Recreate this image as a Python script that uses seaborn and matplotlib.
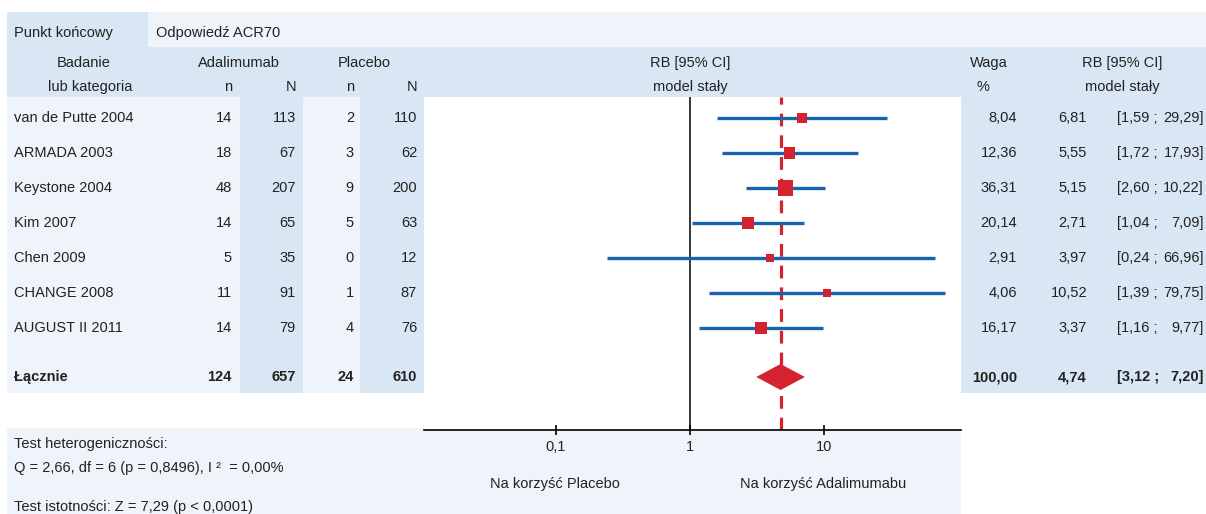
import matplotlib
matplotlib.use("Agg")
import matplotlib.pyplot as plt
import seaborn as sns
import pandas as pd
import numpy as np
from matplotlib.patches import Rectangle, Polygon

# ---------------- data ----------------
endpoint_label = "Punkt końcowy"
endpoint_value = "Odpowiedź ACR70"
studies = ["van de Putte 2004", "ARMADA 2003", "Keystone 2004", "Kim 2007",
           "Chen 2009", "CHANGE 2008", "AUGUST II 2011"]
ada_n = [14, 18, 48, 14, 5, 11, 14]
ada_N = [113, 67, 207, 65, 35, 91, 79]
pla_n = [2, 3, 9, 5, 0, 1, 4]
pla_N = [110, 62, 200, 63, 12, 87, 76]
weights = [8.04, 12.36, 36.31, 20.14, 2.91, 4.06, 16.17]
rb = [6.81, 5.55, 5.15, 2.71, 3.97, 10.52, 3.37]
ci_low = [1.59, 1.72, 2.60, 1.04, 0.24, 1.39, 1.16]
ci_high = [29.29, 17.93, 10.22, 7.09, 66.96, 79.75, 9.77]
total_label = "Łącznie"
total_ada_n, total_ada_N = 124, 657
total_pla_n, total_pla_N = 24, 610
total_weight = 100.00
total_rb, total_low, total_high = 4.74, 3.12, 7.20
tick_values = [0.1, 1, 10]
tick_labels = ["0,1", "1", "10"]
favours = ["Na korzyść Placebo", "Na korzyść Adalimumabu"]
footer_lines = ["Test heterogeniczności:",
                "Q = 2,66, df = 6 (p = 0,8496), I ²  = 0,00%",
                "Test istotności: Z = 7,29 (p < 0,0001)"]

# ---------------- style ----------------
sns.set_theme(style="white")
plt.rcParams['font.family'] = ['Liberation Sans', 'DejaVu Sans']
TXT = "#222222"
MID = "#d9e6f3"
LIGHT = "#eef4fa"
BLUE = "#1664b0"
RED = "#d4232e"
FS = 10.5

def fmt(v):
    return f"{v:.2f}".replace(".", ",")

fig = plt.figure(figsize=(12.06, 5.14), dpi=100)
bg = fig.add_axes([0, 0, 1, 1])
bg.set_xlim(0, 1206)
bg.set_ylim(514, 0)
bg.axis("off")

def rect(x0, y0, x1, y1, c):
    bg.add_patch(Rectangle((x0, y0), x1 - x0, y1 - y0, facecolor=c, lw=0, zorder=0))

def txt(x, y, s, ha="left", bold=False):
    bg.text(x, y, s, ha=ha, va="center", fontsize=FS, color=TXT,
            fontweight="bold" if bold else "normal", zorder=3)

# backgrounds
rect(7, 12, 148, 47, MID)
rect(148, 12, 1206, 47, LIGHT)
rect(7, 47, 1206, 97, MID)
rect(7, 97, 424, 393, LIGHT)
rect(240, 97, 303, 393, MID)
rect(360, 97, 424, 393, MID)
rect(961, 97, 1206, 393, MID)
rect(7, 428, 961, 514, LIGHT)

# top row
txt(14, 33, endpoint_label)
txt(156, 33, endpoint_value)

# headers
H1, H2 = 63, 87
txt(84, H1, "Badanie", ha="center")
txt(90, H2, "lub kategoria", ha="center")
txt(239, H1, "Adalimumab", ha="center")
txt(364, H1, "Placebo", ha="center")
X_AN, X_AN2, X_PN, X_PN2 = 232, 296, 354, 417
txt(X_AN, H2, "n", ha="right")
txt(X_AN2, H2, "N", ha="right")
txt(X_PN, H2, "n", ha="right")
txt(X_PN2, H2, "N", ha="right")
txt(690, H1, "RB [95% CI]", ha="center")
txt(690, H2, "model stały", ha="center")
txt(989, H1, "Waga", ha="center")
txt(983, H2, "%", ha="center")
txt(1122, H1, "RB [95% CI]", ha="center")
txt(1122, H2, "model stały", ha="center")

# rows
row_y = [118, 153, 188, 223, 258, 293, 328]
total_y = 377
X_W, X_RB, X_CL, X_CR = 1017, 1087, 1117, 1204
for i, s in enumerate(studies):
    y = row_y[i]
    txt(14, y, s)
    txt(X_AN, y, str(ada_n[i]), ha="right")
    txt(X_AN2, y, str(ada_N[i]), ha="right")
    txt(X_PN, y, str(pla_n[i]), ha="right")
    txt(X_PN2, y, str(pla_N[i]), ha="right")
    txt(X_W, y, fmt(weights[i]), ha="right")
    txt(X_RB, y, fmt(rb[i]), ha="right")
    txt(X_CL, y, f"[{fmt(ci_low[i])} ;")
    txt(X_CR, y, f"{fmt(ci_high[i])}]", ha="right")

txt(14, total_y, total_label, bold=True)
txt(X_AN, total_y, str(total_ada_n), ha="right", bold=True)
txt(X_AN2, total_y, str(total_ada_N), ha="right", bold=True)
txt(X_PN, total_y, str(total_pla_n), ha="right", bold=True)
txt(X_PN2, total_y, str(total_pla_N), ha="right", bold=True)
txt(X_W, total_y, fmt(total_weight), ha="right", bold=True)
txt(X_RB, total_y, fmt(total_rb), ha="right", bold=True)
txt(X_CL, total_y, f"[{fmt(total_low)} ;", bold=True)
txt(X_CR, total_y, f"{fmt(total_high)}]", ha="right", bold=True)

# footer
txt(14, 444, footer_lines[0])
txt(14, 468, footer_lines[1])
txt(14, 507, footer_lines[2])
txt(555, 484, favours[0], ha="center")
txt(823, 484, favours[1], ha="center")

# ---------------- forest axes ----------------
AX_L, AX_R, AX_T, AX_B = 424, 961, 97, 430
ax = fig.add_axes([AX_L / 1206, (514 - AX_B) / 514, (AX_R - AX_L) / 1206, (AX_B - AX_T) / 514])
ax.set_facecolor("white")
ax.set_xscale("log")
ax.set_xlim(10 ** (-1.985), 10 ** 2.022)
ax.set_ylim(AX_B, AX_T)

df = pd.DataFrame({"study": studies, "rb": rb, "lo": ci_low, "hi": ci_high,
                   "w": weights, "y": row_y})

# reference lines
ax.axvline(1, color="black", lw=1.1, zorder=1)
ax.axvline(total_rb, color=RED, lw=2.3, dashes=(4.0, 2.8), zorder=1)

# CI lines
ax.hlines(df["y"], df["lo"], df["hi"], color=BLUE, lw=2.4, zorder=2)

# squares sized by weight
side_px = 4.5 + 1.85 * np.sqrt(df["w"].to_numpy())
size_map = {w: (s * 0.72) ** 2 for w, s in zip(df["w"], side_px)}
sns.scatterplot(data=df, x="rb", y="y", size="w", sizes=size_map, marker="s",
                color=RED, edgecolor="none", linewidth=0, legend=False, ax=ax, zorder=3)

# diamond for total
dh = 13
ax.add_patch(Polygon([(total_low, total_y), (total_rb, total_y - dh),
                      (total_high, total_y), (total_rb, total_y + dh)],
                     closed=True, facecolor=RED, edgecolor="none", zorder=3))

for sp in ["top", "left", "right"]:
    ax.spines[sp].set_visible(False)
ax.spines["bottom"].set_color("black")
ax.spines["bottom"].set_linewidth(1.2)
ax.set_yticks([])
ax.set_xticks(tick_values)
ax.set_xticklabels(tick_labels)
ax.minorticks_off()
ax.tick_params(axis="x", which="major", direction="inout", length=7, width=1.2,
               colors="black", labelcolor=TXT, labelsize=FS, pad=4, bottom=True)
ax.set_xlabel("")
ax.set_ylabel("")

fig.savefig("out.png", dpi=100)
